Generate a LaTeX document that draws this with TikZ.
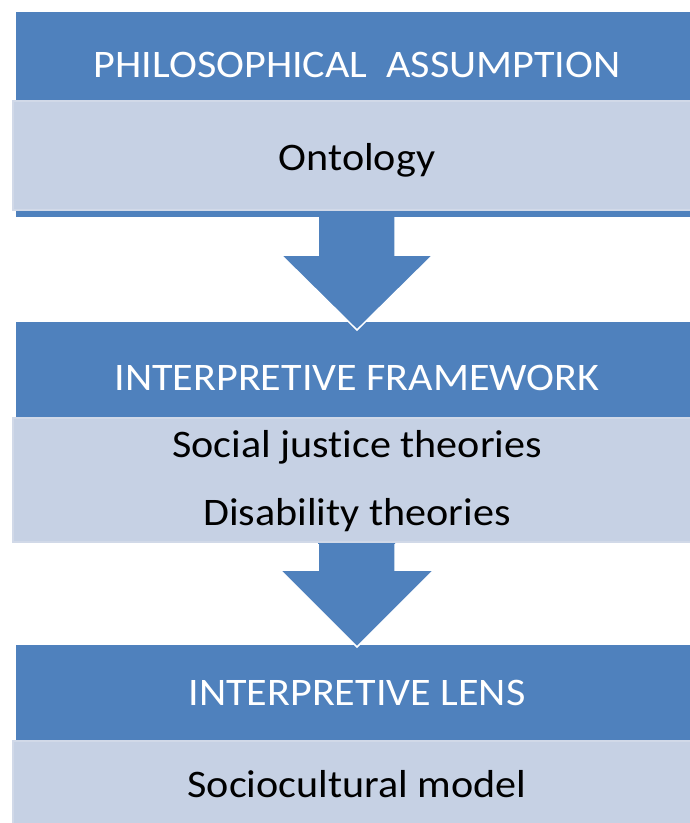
\documentclass[tikz,border=0pt]{standalone}
\usepackage{fontspec}
\setmainfont{Carlito}[FakeStretch=1.08, Ligatures=NoCommon]
\definecolor{hdrblue}{HTML}{4F81BD}
\definecolor{boxfill}{HTML}{C6D1E4}
\definecolor{boxedge}{HTML}{D1D9E8}
\tikzset{
  hdr/.style={fill=hdrblue, draw=none},
  lightbox/.style={fill=boxfill, draw=boxedge, line width=2.5pt},
  hdrtext/.style={text=white, font=\fontsize{39}{41}\selectfont, anchor=base, inner sep=0},
  bodytext/.style={text=black, font=\fontsize{39}{41}\selectfont, anchor=base, inner sep=0},
  arrowfill/.style={fill=hdrblue, draw=none},
  arrowedge/.style={draw=white, line width=1.5pt, line join=miter}
}
\begin{document}
\begin{tikzpicture}[x=1pt, y=-1pt]
\useasboundingbox (0,0) rectangle (690,823);
\fill[white] (0,0) rectangle (690,823);
% headers
\path[hdr] (16,12) rectangle (705,217);
\path[hdr] (16,322) rectangle (705,530);
\path[hdr] (16,645) rectangle (705,760);
% arrow 1
\path[arrowfill] (318,205) -- (318,255) -- (281,255) -- (357,330) -- (433,255) -- (395,255) -- (395,205) -- cycle;
\draw[arrowedge] (318,217) -- (318,255) -- (281,255) -- (357,330) -- (433,255) -- (395,255) -- (395,217);
% arrow 2
\path[arrowfill] (318,530) -- (318,570) -- (280,570) -- (357,647) -- (434,570) -- (395,570) -- (395,530) -- cycle;
\draw[arrowedge] (318,544) -- (318,570) -- (280,570) -- (357,647) -- (434,570) -- (395,570) -- (395,544);
% light boxes
\path[lightbox] (13,101) rectangle (705,210);
\path[lightbox] (13,418) rectangle (705,542);
\path[lightbox] (13,741) rectangle (705,830);
% texts
\node[hdrtext] (h1) at (357,77) {PHILOSOPHICAL~~ASSUMPTION};
\node[bodytext] (b1) at (357,170) {Ontology};
\node[hdrtext] (h2) at (357,390) {INTERPRETIVE FRAMEWORK};
\node[bodytext] (b2a) at (357,457) {Social justice theories};
\node[bodytext] (b2b) at (357,525) {Disability theories};
\node[hdrtext] (h3) at (357,705) {INTERPRETIVE LENS};
\node[bodytext] (b3) at (357,797) {Sociocultural model};
\end{tikzpicture}
\end{document}
